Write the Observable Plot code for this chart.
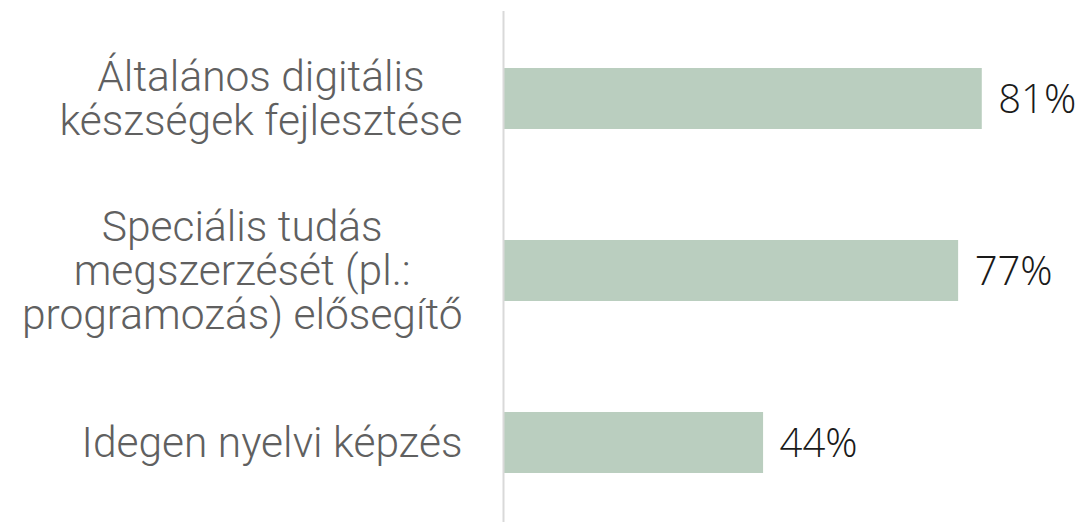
<!DOCTYPE html>
<html>
<head>
<meta charset="utf-8">
<script src="https://cdn.jsdelivr.net/npm/d3@7"></script>
<script src="https://cdn.jsdelivr.net/npm/@observablehq/plot@0.6"></script>
<style>
  html, body { margin: 0; padding: 0; background: #fff; }
  #chart svg { display: block; overflow: visible; }
</style>
</head>
<body>
<div id="chart"></div>
<script>
const categories = [
  "Általános digitális\nkészségek fejlesztése",
  "Speciális tudás\nmegszerzését (pl.:\nprogramozás) elősegítő",
  "Idegen nyelvi képzés"
];
const values = [81, 77, 44];
const valueLabels = ["81%", "77%", "44%"];

const data = categories.map((c, i) => ({category: c, value: values[i], label: valueLabels[i]}));

const labelFontSize = 42.5;
const labelFont = "'Roboto Light', Roboto, sans-serif";
const labelGap = 41; // gap between label block right edge and axis

// measure each label block's widest line so the lines are centred in a right-aligned block
const ctx = document.createElement("canvas").getContext("2d");
ctx.font = `300 ${labelFontSize}px ${labelFont}`;
const blockWidth = c => d3.max(c.split("\n"), s => ctx.measureText(s).width);

const labelMarks = data.map(d => Plot.text([d], {
  y: "category", text: "category", frameAnchor: "left",
  textAnchor: "middle", dx: -labelGap - blockWidth(d.category) / 2, dy: 0,
  lineHeight: 44 / labelFontSize,
  fontSize: labelFontSize, fontFamily: labelFont, fontWeight: 300,
  fill: "#606060"
}));

const chart = Plot.plot({
  width: 1078,
  height: 522,
  marginLeft: 503,
  marginRight: 0,
  marginTop: 11,
  marginBottom: 0,
  style: {background: "transparent", overflow: "visible"},
  x: {domain: [0, 97.28], axis: null},
  y: {domain: categories, range: [11, 529], paddingInner: 0.646, paddingOuter: 0.325, axis: null},
  marks: [
    Plot.barX(data, {x: "value", y: "category", fill: "#bacebf"}),
    Plot.ruleX([0], {stroke: "#d9d9d9", strokeWidth: 2}),
    Plot.text(data, {
      x: "value", y: "category", text: "label",
      textAnchor: "start", dx: 16, dy: 1,
      fontSize: 40, fontFamily: "'Open Sans Light', 'Open Sans', sans-serif", fontWeight: 300,
      fill: "#1a1a1a"
    }),
    ...labelMarks
  ]
});
document.getElementById("chart").append(chart);
</script>
</body>
</html>
